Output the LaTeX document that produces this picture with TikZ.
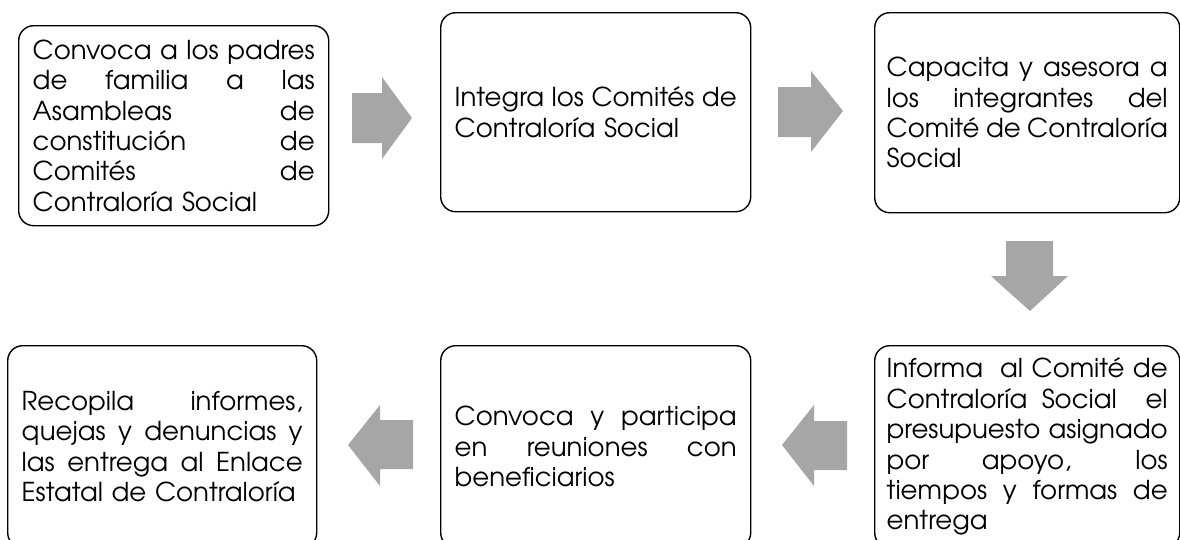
\documentclass[tikz,border=0pt]{standalone}
\usepackage{fontspec}
\setmainfont{TeX Gyre Adventor}
\definecolor{arrowgray}{HTML}{A6A6A6}
\newcommand\jline[1]{\hbox to \hsize{\spaceskip=0.25em plus 10em\relax #1}\par}
\tikzset{
  stagebox/.style={draw=black, line width=1.4pt, rounded corners=15pt,
    anchor=north west, inner xsep=14pt, inner ysep=0pt, align=left,
    font=\fontsize{26}{30.4}\selectfont},
  wide/.style={text width=282pt, minimum width=310pt},
  narrow/.style={text width=281pt, inner xsep=12pt, minimum width=305pt},
  blockarrow/.style={fill=arrowgray, draw=none},
}
\begin{document}
\begin{tikzpicture}[x=1pt,y=-1pt]
\useasboundingbox (0,0) rectangle (1180,539);
\clip (0,0) rectangle (1180,539);

\node[stagebox, wide, minimum height=200pt] (b1) at (18,25) {%
\jline{Convoca a los padres}%
\jline{de familia a las}%
\jline{Asambleas de}%
\jline{constitución de}%
\jline{Comités de}%
Contraloría Social};

\node[stagebox, wide, minimum height=199pt] (b2) at (440,12) {%
\jline{Integra los Comités de}%
Contraloría Social};

\node[stagebox, narrow, minimum height=200pt] (b3) at (874,12) {%
\jline{Capacita y asesora a}%
\jline{los integrantes del}%
\jline{Comité de Contraloría}%
Social};

\node[stagebox, narrow, minimum height=202pt] (b4) at (874,345) {%
\jline{Informa\ \ al Comité de}%
\jline{Contraloría Social\ \ el}%
\jline{presupuesto asignado}%
\jline{por apoyo, los}%
\jline{tiempos y formas de}%
entrega};

\node[stagebox, wide, minimum height=202pt] (b5) at (440,345) {%
\jline{Convoca y participa}%
\jline{en reuniones con}%
beneficiarios};

\node[stagebox, text width=281pt, minimum width=309pt, minimum height=202pt] (b6) at (7,345) {%
\jline{Recopila informes,}%
\jline{quejas y denuncias y}%
\jline{las entrega al Enlace}%
Estatal de Contraloría};

% block arrows between the stages
\fill[blockarrow] (352,93) -- (382,93) -- (382,77) -- (412,118) -- (382,159) -- (382,143) -- (352,143) -- cycle;
\fill[blockarrow] (778,87) -- (811,87) -- (811,71) -- (843,111) -- (811,152) -- (811,137) -- (778,137) -- cycle;
\fill[blockarrow] (1006,241) -- (1053,241) -- (1053,276) -- (1068,276) -- (1030,311) -- (991,276) -- (1006,276) -- cycle;
\fill[blockarrow] (847,421) -- (814,421) -- (814,405) -- (782,445) -- (814,486) -- (814,470) -- (847,470) -- cycle;
\fill[blockarrow] (413,420) -- (380,420) -- (380,405) -- (348,445) -- (380,486) -- (380,469) -- (413,469) -- cycle;
\end{tikzpicture}
\end{document}
